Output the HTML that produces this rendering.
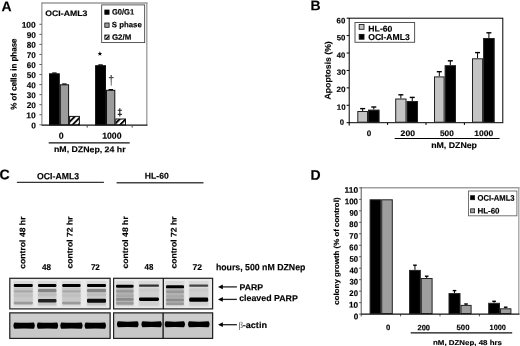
<!DOCTYPE html>
<html><head><meta charset="utf-8"><style>
html,body{margin:0;padding:0;background:#fff;overflow:hidden;}
svg{display:block;font-family:"Liberation Sans", sans-serif;text-rendering:geometricPrecision;filter:blur(0.25px);}
</style></head><body>
<svg width="520" height="346" viewBox="0 0 520 346">
<defs>
<pattern id="hatch" patternUnits="userSpaceOnUse" width="4.2" height="4.2" patternTransform="rotate(45)">
<rect width="4.2" height="4.2" fill="#fff"/><rect width="1.9" height="4.2" fill="#000"/></pattern>
<pattern id="hatch2" patternUnits="userSpaceOnUse" width="3" height="3" patternTransform="rotate(45)">
<rect width="3" height="3" fill="#fff"/><rect width="1.4" height="3" fill="#000"/></pattern>
<filter id="blur" x="-5%" y="-20%" width="110%" height="140%"><feGaussianBlur stdDeviation="0.55"/></filter>
<filter id="blur2" x="-5%" y="-20%" width="110%" height="140%"><feGaussianBlur stdDeviation="0.75"/></filter>
</defs>
<rect width="520" height="346" fill="#fff"/>
<line x1="41.90" y1="3.00" x2="147.40" y2="3.00" stroke="#9a9a9a" stroke-width="1.3"/>
<line x1="146.80" y1="2.40" x2="146.80" y2="125.60" stroke="#9a9a9a" stroke-width="1.3"/>
<line x1="41.90" y1="2.40" x2="41.90" y2="125.60" stroke="#7a7a7a" stroke-width="1.0"/>
<line x1="39.40" y1="124.80" x2="41.90" y2="124.80" stroke="#666" stroke-width="1"/>
<line x1="39.40" y1="114.75" x2="41.90" y2="114.75" stroke="#666" stroke-width="1"/>
<line x1="39.40" y1="104.70" x2="41.90" y2="104.70" stroke="#666" stroke-width="1"/>
<line x1="39.40" y1="94.65" x2="41.90" y2="94.65" stroke="#666" stroke-width="1"/>
<line x1="39.40" y1="84.60" x2="41.90" y2="84.60" stroke="#666" stroke-width="1"/>
<line x1="39.40" y1="74.55" x2="41.90" y2="74.55" stroke="#666" stroke-width="1"/>
<line x1="39.40" y1="64.50" x2="41.90" y2="64.50" stroke="#666" stroke-width="1"/>
<line x1="39.40" y1="54.45" x2="41.90" y2="54.45" stroke="#666" stroke-width="1"/>
<line x1="39.40" y1="44.40" x2="41.90" y2="44.40" stroke="#666" stroke-width="1"/>
<line x1="39.40" y1="34.35" x2="41.90" y2="34.35" stroke="#666" stroke-width="1"/>
<line x1="39.40" y1="24.30" x2="41.90" y2="24.30" stroke="#666" stroke-width="1"/>
<rect x="49.50" y="73.80" width="9.80" height="51.10" fill="#000" stroke="#111" stroke-width="1.0" />
<rect x="60.30" y="84.80" width="8.30" height="40.10" fill="#9c9c9c" stroke="#111" stroke-width="1.0" />
<rect x="69.60" y="116.40" width="9.80" height="8.50" fill="url(#hatch)" stroke="#111" stroke-width="1.0" />
<rect x="95.60" y="65.70" width="9.90" height="59.20" fill="#000" stroke="#111" stroke-width="1.0" />
<rect x="106.50" y="90.30" width="8.30" height="34.60" fill="#9c9c9c" stroke="#111" stroke-width="1.0" />
<rect x="115.80" y="119.00" width="9.70" height="5.90" fill="url(#hatch)" stroke="#111" stroke-width="1.0" />
<line x1="52.20" y1="73.00" x2="56.60" y2="73.00" stroke="#000" stroke-width="1.2"/>
<line x1="62.20" y1="84.00" x2="66.60" y2="84.00" stroke="#000" stroke-width="1.2"/>
<line x1="98.30" y1="64.90" x2="102.70" y2="64.90" stroke="#000" stroke-width="1.2"/>
<line x1="108.60" y1="89.60" x2="113.00" y2="89.60" stroke="#000" stroke-width="1.2"/>
<line x1="41.90" y1="125.20" x2="147.40" y2="125.20" stroke="#111" stroke-width="1.2"/>
<line x1="87.20" y1="125.20" x2="87.20" y2="127.60" stroke="#444" stroke-width="1"/>
<line x1="132.20" y1="125.20" x2="132.20" y2="127.60" stroke="#444" stroke-width="1"/>
<polygon points="99.90,51.30 100.52,52.95 102.28,53.03 100.90,54.12 101.37,55.82 99.90,54.85 98.43,55.82 98.90,54.12 97.52,53.03 99.28,52.95" fill="#000"/>
<path d="M110.5,75 L111.9,75 L111.55,85.8 L110.85,85.8 Z" fill="#555"/>
<path d="M108.8,77.6 L113.6,77.6" stroke="#444" stroke-width="1.1" fill="none"/>
<path d="M119.8,108.2 L119.8,116.6 M117.7,110.2 L121.9,110.2 M117.7,114.4 L121.9,114.4" stroke="#222" stroke-width="1.1" fill="none"/>
<rect x="101.70" y="4.90" width="43.00" height="37.70" fill="#fff" stroke="#333" stroke-width="0.8" />
<rect x="104.80" y="10.00" width="4.30" height="4.30" fill="#000" stroke="#111" stroke-width="0.8" />
<rect x="104.80" y="23.00" width="4.30" height="4.30" fill="#9c9c9c" stroke="#111" stroke-width="0.8" />
<rect x="104.80" y="35.00" width="4.30" height="4.30" fill="url(#hatch2)" stroke="#111" stroke-width="0.8" />
<line x1="48.70" y1="142.90" x2="129.70" y2="142.90" stroke="#111" stroke-width="1.2"/>
<rect x="349.20" y="18.20" width="153.60" height="104.50" fill="none" stroke="#000" stroke-width="1.0" />
<line x1="346.60" y1="122.70" x2="349.20" y2="122.70" stroke="#000" stroke-width="1"/>
<line x1="346.60" y1="105.28" x2="349.20" y2="105.28" stroke="#000" stroke-width="1"/>
<line x1="346.60" y1="87.86" x2="349.20" y2="87.86" stroke="#000" stroke-width="1"/>
<line x1="346.60" y1="70.44" x2="349.20" y2="70.44" stroke="#000" stroke-width="1"/>
<line x1="346.60" y1="53.02" x2="349.20" y2="53.02" stroke="#000" stroke-width="1"/>
<line x1="346.60" y1="35.60" x2="349.20" y2="35.60" stroke="#000" stroke-width="1"/>
<line x1="346.60" y1="18.18" x2="349.20" y2="18.18" stroke="#000" stroke-width="1"/>
<line x1="349.20" y1="122.70" x2="349.20" y2="125.60" stroke="#000" stroke-width="1"/>
<line x1="387.60" y1="122.70" x2="387.60" y2="125.00" stroke="#000" stroke-width="1"/>
<line x1="426.00" y1="122.70" x2="426.00" y2="125.00" stroke="#000" stroke-width="1"/>
<line x1="464.40" y1="122.70" x2="464.40" y2="125.00" stroke="#000" stroke-width="1"/>
<line x1="362.65" y1="108.60" x2="362.65" y2="111.00" stroke="#000" stroke-width="1.0"/>
<line x1="360.15" y1="108.60" x2="365.15" y2="108.60" stroke="#000" stroke-width="1.4"/>
<rect x="357.80" y="111.50" width="9.70" height="10.70" fill="#c4c4c4" stroke="#222" stroke-width="1.0" />
<line x1="373.80" y1="107.00" x2="373.80" y2="109.60" stroke="#000" stroke-width="1.0"/>
<line x1="371.30" y1="107.00" x2="376.30" y2="107.00" stroke="#000" stroke-width="1.4"/>
<rect x="368.50" y="110.10" width="10.60" height="12.10" fill="#000" stroke="#222" stroke-width="1.0" />
<line x1="400.85" y1="94.80" x2="400.85" y2="98.50" stroke="#000" stroke-width="1.0"/>
<line x1="398.35" y1="94.80" x2="403.35" y2="94.80" stroke="#000" stroke-width="1.4"/>
<rect x="395.70" y="99.00" width="10.30" height="23.20" fill="#c4c4c4" stroke="#222" stroke-width="1.0" />
<line x1="412.25" y1="97.40" x2="412.25" y2="101.00" stroke="#000" stroke-width="1.0"/>
<line x1="409.75" y1="97.40" x2="414.75" y2="97.40" stroke="#000" stroke-width="1.4"/>
<rect x="407.00" y="101.50" width="10.50" height="20.70" fill="#000" stroke="#222" stroke-width="1.0" />
<line x1="439.30" y1="71.70" x2="439.30" y2="76.40" stroke="#000" stroke-width="1.0"/>
<line x1="436.80" y1="71.70" x2="441.80" y2="71.70" stroke="#000" stroke-width="1.4"/>
<rect x="434.50" y="76.90" width="9.60" height="45.30" fill="#c4c4c4" stroke="#222" stroke-width="1.0" />
<line x1="450.30" y1="60.80" x2="450.30" y2="65.20" stroke="#000" stroke-width="1.0"/>
<line x1="447.80" y1="60.80" x2="452.80" y2="60.80" stroke="#000" stroke-width="1.4"/>
<rect x="445.10" y="65.70" width="10.40" height="56.50" fill="#000" stroke="#222" stroke-width="1.0" />
<line x1="477.55" y1="52.60" x2="477.55" y2="58.30" stroke="#000" stroke-width="1.0"/>
<line x1="475.05" y1="52.60" x2="480.05" y2="52.60" stroke="#000" stroke-width="1.4"/>
<rect x="472.50" y="58.80" width="10.10" height="63.40" fill="#c4c4c4" stroke="#222" stroke-width="1.0" />
<line x1="488.90" y1="32.80" x2="488.90" y2="38.00" stroke="#000" stroke-width="1.0"/>
<line x1="486.40" y1="32.80" x2="491.40" y2="32.80" stroke="#000" stroke-width="1.4"/>
<rect x="483.60" y="38.50" width="10.60" height="83.70" fill="#000" stroke="#222" stroke-width="1.0" />
<rect x="355.00" y="22.50" width="59.60" height="19.80" fill="#fff" stroke="#555" stroke-width="1.0" />
<rect x="359.20" y="24.50" width="4.80" height="4.80" fill="#c4c4c4" stroke="#222" stroke-width="0.9" />
<rect x="359.20" y="34.40" width="4.80" height="4.80" fill="#000" stroke="#111" stroke-width="0.9" />
<line x1="394.70" y1="138.50" x2="499.60" y2="138.50" stroke="#000" stroke-width="1.1"/>
<line x1="16.90" y1="182.40" x2="103.90" y2="182.40" stroke="#333" stroke-width="1.3"/>
<line x1="116.60" y1="182.70" x2="203.50" y2="182.70" stroke="#444" stroke-width="1.5"/>
<rect x="9.20" y="277.70" width="101.50" height="31.50" fill="#e9e9e9" stroke="none" stroke-width="0" />
<rect x="113.00" y="277.70" width="100.20" height="31.50" fill="#e9e9e9" stroke="none" stroke-width="0" />
<g filter="url(#blur2)">
<rect x="13.30" y="281.00" width="20.00" height="25.50" fill="#d9d9d9" stroke="none" stroke-width="0" />
<rect x="37.50" y="281.00" width="19.40" height="25.50" fill="#d9d9d9" stroke="none" stroke-width="0" />
<rect x="61.70" y="281.00" width="19.40" height="25.50" fill="#d9d9d9" stroke="none" stroke-width="0" />
<rect x="86.50" y="281.00" width="20.00" height="25.50" fill="#d9d9d9" stroke="none" stroke-width="0" />
<rect x="115.50" y="281.00" width="18.60" height="25.50" fill="#d9d9d9" stroke="none" stroke-width="0" />
<rect x="138.50" y="281.00" width="21.00" height="25.50" fill="#d9d9d9" stroke="none" stroke-width="0" />
<rect x="165.50" y="281.00" width="19.00" height="25.50" fill="#d9d9d9" stroke="none" stroke-width="0" />
<rect x="188.70" y="281.00" width="20.00" height="25.50" fill="#d9d9d9" stroke="none" stroke-width="0" />
<rect x="14.10" y="288.00" width="18.40" height="17.00" fill="#c6c6c6" stroke="none" stroke-width="0" rx="1"/>
<rect x="38.30" y="288.00" width="17.80" height="17.00" fill="#cbcbcb" stroke="none" stroke-width="0" rx="1"/>
<rect x="62.50" y="288.00" width="17.80" height="17.00" fill="#c6c6c6" stroke="none" stroke-width="0" rx="1"/>
<rect x="87.30" y="288.00" width="18.40" height="17.00" fill="#cbcbcb" stroke="none" stroke-width="0" rx="1"/>
<rect x="116.30" y="288.20" width="17.00" height="17.00" fill="#b2b2b2" stroke="none" stroke-width="0" rx="1"/>
<rect x="139.30" y="288.20" width="19.40" height="17.00" fill="#d0d0d0" stroke="none" stroke-width="0" rx="1"/>
<rect x="166.30" y="288.20" width="17.40" height="17.00" fill="#b2b2b2" stroke="none" stroke-width="0" rx="1"/>
<rect x="189.50" y="288.20" width="18.40" height="17.00" fill="#d0d0d0" stroke="none" stroke-width="0" rx="1"/>
<rect x="13.80" y="284.00" width="19.00" height="3.00" rx="1.20" fill="#000" opacity="1.0"/>
<rect x="13.80" y="287.50" width="19.00" height="3.00" rx="1.00" fill="#c4c4c4" opacity="1.0"/>
<rect x="13.80" y="290.20" width="19.00" height="2.40" rx="1.00" fill="#a8a8a8" opacity="1.0"/>
<rect x="13.80" y="294.10" width="19.00" height="3.00" rx="1.00" fill="#c0c0c0" opacity="1.0"/>
<rect x="13.80" y="298.00" width="19.00" height="3.00" rx="1.00" fill="#c8c8c8" opacity="1.0"/>
<rect x="13.80" y="301.80" width="19.00" height="2.40" rx="1.00" fill="#9a9a9a" opacity="1.0"/>
<rect x="38.00" y="284.00" width="18.40" height="3.00" rx="1.20" fill="#000" opacity="1.0"/>
<rect x="38.00" y="288.90" width="18.40" height="3.40" rx="1.00" fill="#858585" opacity="1.0"/>
<rect x="38.00" y="293.30" width="18.40" height="3.00" rx="1.00" fill="#bdbdbd" opacity="1.0"/>
<rect x="38.00" y="299.05" width="18.40" height="3.50" rx="1.20" fill="#222" opacity="1.0"/>
<rect x="38.00" y="303.20" width="18.40" height="2.00" rx="1.00" fill="#c4c4c4" opacity="1.0"/>
<rect x="62.20" y="284.00" width="18.40" height="3.00" rx="1.20" fill="#000" opacity="1.0"/>
<rect x="62.20" y="287.50" width="18.40" height="3.00" rx="1.00" fill="#c4c4c4" opacity="1.0"/>
<rect x="62.20" y="290.20" width="18.40" height="2.40" rx="1.00" fill="#a8a8a8" opacity="1.0"/>
<rect x="62.20" y="294.10" width="18.40" height="3.00" rx="1.00" fill="#c0c0c0" opacity="1.0"/>
<rect x="62.20" y="298.00" width="18.40" height="3.00" rx="1.00" fill="#c8c8c8" opacity="1.0"/>
<rect x="62.20" y="301.80" width="18.40" height="2.40" rx="1.00" fill="#9a9a9a" opacity="1.0"/>
<rect x="87.00" y="284.00" width="19.00" height="3.00" rx="1.20" fill="#000" opacity="1.0"/>
<rect x="87.00" y="288.90" width="19.00" height="3.40" rx="1.00" fill="#858585" opacity="1.0"/>
<rect x="87.00" y="293.30" width="19.00" height="3.00" rx="1.00" fill="#bdbdbd" opacity="1.0"/>
<rect x="87.00" y="298.85" width="19.00" height="3.90" rx="1.20" fill="#080808" opacity="1.0"/>
<rect x="87.00" y="303.20" width="19.00" height="2.00" rx="1.00" fill="#c4c4c4" opacity="1.0"/>
<rect x="116.00" y="284.65" width="17.60" height="3.10" rx="1.20" fill="#000" opacity="1.0"/>
<rect x="116.00" y="289.90" width="17.60" height="2.60" rx="1.00" fill="#989898" opacity="1.0"/>
<rect x="116.00" y="294.60" width="17.60" height="2.40" rx="1.00" fill="#a8a8a8" opacity="1.0"/>
<rect x="116.00" y="298.10" width="17.60" height="2.60" rx="1.00" fill="#8c8c8c" opacity="1.0"/>
<rect x="116.00" y="302.00" width="17.60" height="2.40" rx="1.00" fill="#999" opacity="1.0"/>
<rect x="139.00" y="284.50" width="20.00" height="2.20" rx="1.00" fill="#333" opacity="1.0"/>
<rect x="139.00" y="288.70" width="20.00" height="3.00" rx="1.00" fill="#cacaca" opacity="1.0"/>
<rect x="139.00" y="297.50" width="20.00" height="3.40" rx="1.40" fill="#000" opacity="1.0"/>
<rect x="166.00" y="285.25" width="18.00" height="3.10" rx="1.20" fill="#000" opacity="1.0"/>
<rect x="166.00" y="290.50" width="18.00" height="2.60" rx="1.00" fill="#989898" opacity="1.0"/>
<rect x="166.00" y="295.20" width="18.00" height="2.40" rx="1.00" fill="#a8a8a8" opacity="1.0"/>
<rect x="166.00" y="298.70" width="18.00" height="2.60" rx="1.00" fill="#8c8c8c" opacity="1.0"/>
<rect x="166.00" y="302.60" width="18.00" height="2.40" rx="1.00" fill="#999" opacity="1.0"/>
<rect x="189.20" y="284.50" width="19.00" height="2.20" rx="1.00" fill="#444" opacity="1.0"/>
<rect x="189.20" y="288.70" width="19.00" height="3.00" rx="1.00" fill="#cacaca" opacity="1.0"/>
<rect x="189.20" y="297.60" width="19.00" height="4.20" rx="1.40" fill="#000" opacity="1.0"/>
</g>
<rect x="9.80" y="278.30" width="100.30" height="30.60" fill="none" stroke="#222" stroke-width="1.2" />
<rect x="113.60" y="278.30" width="99.00" height="30.60" fill="none" stroke="#222" stroke-width="1.2" />
<line x1="163.30" y1="278.00" x2="163.30" y2="309.00" stroke="#111" stroke-width="1.2"/>
<rect x="9.20" y="312.30" width="101.50" height="26.50" fill="#c8c8c8" stroke="none" stroke-width="0" />
<rect x="9.20" y="312.30" width="101.50" height="8.00" fill="#cfcfcf" stroke="none" stroke-width="0" opacity="0.7"/>
<rect x="113.00" y="312.30" width="100.20" height="26.50" fill="#c8c8c8" stroke="none" stroke-width="0" />
<rect x="113.00" y="312.30" width="100.20" height="8.00" fill="#cfcfcf" stroke="none" stroke-width="0" opacity="0.7"/>
<g filter="url(#blur2)">
<path d="M14.40,322.40 Q24.10,323.20 33.80,322.40 Q35.80,325.60 33.80,328.80 Q24.10,328.00 14.40,328.80 Q12.40,325.60 14.40,322.40 Z" fill="#000"/>
<path d="M37.90,322.40 Q47.50,323.20 57.10,322.40 Q59.10,325.60 57.10,328.80 Q47.50,328.00 37.90,328.80 Q35.90,325.60 37.90,322.40 Z" fill="#000"/>
<path d="M61.30,322.40 Q71.45,323.20 81.60,322.40 Q83.60,325.60 81.60,328.80 Q71.45,328.00 61.30,328.80 Q59.30,325.60 61.30,322.40 Z" fill="#000"/>
<path d="M85.60,322.40 Q95.30,323.20 105.00,322.40 Q107.00,325.60 105.00,328.80 Q95.30,328.00 85.60,328.80 Q83.60,325.60 85.60,322.40 Z" fill="#000"/>
<path d="M117.90,321.30 Q127.75,322.00 137.60,321.30 Q139.60,324.30 137.60,327.30 Q127.75,326.60 117.90,327.30 Q115.90,324.30 117.90,321.30 Z" fill="#000"/>
<path d="M142.40,321.30 Q151.60,322.00 160.80,321.30 Q162.80,324.30 160.80,327.30 Q151.60,326.60 142.40,327.30 Q140.40,324.30 142.40,321.30 Z" fill="#000"/>
<path d="M165.70,321.30 Q174.85,322.00 184.00,321.30 Q186.00,324.30 184.00,327.30 Q174.85,326.60 165.70,327.30 Q163.70,324.30 165.70,321.30 Z" fill="#000"/>
<path d="M189.00,321.30 Q198.80,322.00 208.60,321.30 Q210.60,324.30 208.60,327.30 Q198.80,326.60 189.00,327.30 Q187.00,324.30 189.00,321.30 Z" fill="#000"/>
</g>
<rect x="9.80" y="312.90" width="100.30" height="25.50" fill="none" stroke="#222" stroke-width="1.2" />
<rect x="113.60" y="312.90" width="99.00" height="25.50" fill="none" stroke="#222" stroke-width="1.2" />
<line x1="163.10" y1="313.00" x2="163.10" y2="338.50" stroke="#111" stroke-width="1.3"/>
<line x1="221.50" y1="286.90" x2="236.90" y2="286.90" stroke="#222" stroke-width="1.3"/>
<path d="M218,286.90 L222.8,284.50 L222.8,289.30 Z" fill="#000"/>
<line x1="221.50" y1="299.40" x2="236.90" y2="299.40" stroke="#222" stroke-width="1.3"/>
<path d="M218,299.40 L222.8,297.00 L222.8,301.80 Z" fill="#000"/>
<line x1="221.50" y1="324.70" x2="236.90" y2="324.70" stroke="#222" stroke-width="1.3"/>
<path d="M218,324.70 L222.8,322.30 L222.8,327.10 Z" fill="#000"/>
<text x="238.6" y="327.6" font-size="9" font-family="Liberation Serif" fill="#555">β</text>
<line x1="361.20" y1="187.80" x2="519.50" y2="187.80" stroke="#a0a0a0" stroke-width="1.4"/>
<line x1="518.80" y1="187.20" x2="518.80" y2="314.10" stroke="#a0a0a0" stroke-width="1.3"/>
<line x1="361.20" y1="187.20" x2="361.20" y2="316.50" stroke="#555" stroke-width="1"/>
<line x1="359.20" y1="314.10" x2="361.20" y2="314.10" stroke="#555" stroke-width="1"/>
<line x1="359.20" y1="302.62" x2="361.20" y2="302.62" stroke="#555" stroke-width="1"/>
<line x1="359.20" y1="291.15" x2="361.20" y2="291.15" stroke="#555" stroke-width="1"/>
<line x1="359.20" y1="279.68" x2="361.20" y2="279.68" stroke="#555" stroke-width="1"/>
<line x1="359.20" y1="268.20" x2="361.20" y2="268.20" stroke="#555" stroke-width="1"/>
<line x1="359.20" y1="256.73" x2="361.20" y2="256.73" stroke="#555" stroke-width="1"/>
<line x1="359.20" y1="245.25" x2="361.20" y2="245.25" stroke="#555" stroke-width="1"/>
<line x1="359.20" y1="233.78" x2="361.20" y2="233.78" stroke="#555" stroke-width="1"/>
<line x1="359.20" y1="222.30" x2="361.20" y2="222.30" stroke="#555" stroke-width="1"/>
<line x1="359.20" y1="210.83" x2="361.20" y2="210.83" stroke="#555" stroke-width="1"/>
<line x1="359.20" y1="199.35" x2="361.20" y2="199.35" stroke="#555" stroke-width="1"/>
<line x1="359.20" y1="187.88" x2="361.20" y2="187.88" stroke="#555" stroke-width="1"/>
<line x1="400.60" y1="314.10" x2="400.60" y2="316.40" stroke="#555" stroke-width="1"/>
<line x1="440.00" y1="314.10" x2="440.00" y2="316.40" stroke="#555" stroke-width="1"/>
<line x1="479.40" y1="314.10" x2="479.40" y2="316.40" stroke="#555" stroke-width="1"/>
<rect x="370.10" y="199.80" width="10.60" height="113.80" fill="#000" stroke="#222" stroke-width="1.0" />
<rect x="381.70" y="199.80" width="10.60" height="113.80" fill="#9e9e9e" stroke="#222" stroke-width="1.0" />
<line x1="414.95" y1="265.20" x2="414.95" y2="269.90" stroke="#000" stroke-width="1.0"/>
<line x1="413.15" y1="265.20" x2="416.75" y2="265.20" stroke="#000" stroke-width="1.4"/>
<rect x="409.60" y="270.40" width="10.70" height="43.20" fill="#000" stroke="#222" stroke-width="1.0" />
<line x1="426.70" y1="276.20" x2="426.70" y2="278.00" stroke="#000" stroke-width="1.0"/>
<line x1="424.90" y1="276.20" x2="428.50" y2="276.20" stroke="#000" stroke-width="1.4"/>
<rect x="421.30" y="278.50" width="10.80" height="35.10" fill="#9e9e9e" stroke="#222" stroke-width="1.0" />
<line x1="454.50" y1="290.60" x2="454.50" y2="293.10" stroke="#000" stroke-width="1.0"/>
<line x1="452.70" y1="290.60" x2="456.30" y2="290.60" stroke="#000" stroke-width="1.4"/>
<rect x="449.00" y="293.60" width="11.00" height="20.00" fill="#000" stroke="#222" stroke-width="1.0" />
<line x1="466.05" y1="304.00" x2="466.05" y2="304.90" stroke="#000" stroke-width="1.0"/>
<line x1="464.25" y1="304.00" x2="467.85" y2="304.00" stroke="#000" stroke-width="1.4"/>
<rect x="461.00" y="305.40" width="10.10" height="8.20" fill="#9e9e9e" stroke="#222" stroke-width="1.0" />
<line x1="494.10" y1="301.30" x2="494.10" y2="302.80" stroke="#000" stroke-width="1.0"/>
<line x1="492.30" y1="301.30" x2="495.90" y2="301.30" stroke="#000" stroke-width="1.4"/>
<rect x="488.70" y="303.30" width="10.80" height="10.30" fill="#000" stroke="#222" stroke-width="1.0" />
<line x1="505.70" y1="307.20" x2="505.70" y2="308.30" stroke="#000" stroke-width="1.0"/>
<line x1="503.90" y1="307.20" x2="507.50" y2="307.20" stroke="#000" stroke-width="1.4"/>
<rect x="500.50" y="308.80" width="10.40" height="4.80" fill="#9e9e9e" stroke="#222" stroke-width="1.0" />
<line x1="361.20" y1="314.10" x2="519.50" y2="314.10" stroke="#111" stroke-width="1.2"/>
<rect x="468.50" y="191.00" width="48.40" height="24.80" fill="#fff" stroke="#666" stroke-width="0.9" />
<rect x="470.60" y="195.70" width="4.00" height="4.00" fill="#000" stroke="#111" stroke-width="0.8" />
<rect x="470.60" y="208.80" width="4.00" height="4.00" fill="#9e9e9e" stroke="#222" stroke-width="0.8" />
<line x1="410.70" y1="332.80" x2="512.20" y2="332.80" stroke="#111" stroke-width="1.2"/>
<text id="A" x="1.51" y="11.22" transform="rotate(0.05 1.51 11.22)" font-size="14" font-weight="bold" stroke="#000" stroke-width="0.15">A</text>
<text id="B" x="310.44" y="10.21" transform="rotate(0.05 310.44 10.21)" font-size="14" font-weight="bold" stroke="#000" stroke-width="0.15">B</text>
<text id="C" x="-0.60" y="179.13" transform="rotate(0.05 -0.60 179.13)" font-size="14" font-weight="bold" stroke="#000" stroke-width="0.15">C</text>
<text id="D" x="310.60" y="179.69" transform="rotate(0.05 310.60 179.69)" font-size="14" font-weight="bold" stroke="#000" stroke-width="0.15">D</text>
<text id="A_title" x="45.31" y="15.91" transform="rotate(0.05 45.31 15.91)" font-size="8.0" font-weight="bold" textLength="42.07" lengthAdjust="spacingAndGlyphs" stroke="#000" stroke-width="0.15">OCI-AML3</text>
<text id="A_t0" x="31.18" y="128.38" transform="rotate(0.05 31.18 128.38)" font-size="8.4" font-weight="bold" stroke="#000" stroke-width="0.15">0</text>
<text id="A_t10" x="26.34" y="118.33" transform="rotate(0.05 26.34 118.33)" font-size="8.4" font-weight="bold" textLength="9.48" lengthAdjust="spacingAndGlyphs" stroke="#000" stroke-width="0.15">10</text>
<text id="A_t20" x="26.64" y="108.14" transform="rotate(0.05 26.64 108.14)" font-size="8.4" font-weight="bold" textLength="9.21" lengthAdjust="spacingAndGlyphs" stroke="#000" stroke-width="0.15">20</text>
<text id="A_t30" x="26.82" y="98.13" transform="rotate(0.05 26.82 98.13)" font-size="8.4" font-weight="bold" textLength="9.00" lengthAdjust="spacingAndGlyphs" stroke="#000" stroke-width="0.15">30</text>
<text id="A_t40" x="26.78" y="88.13" transform="rotate(0.05 26.78 88.13)" font-size="8.4" font-weight="bold" textLength="9.04" lengthAdjust="spacingAndGlyphs" stroke="#000" stroke-width="0.15">40</text>
<text id="A_t50" x="26.65" y="77.98" transform="rotate(0.05 26.65 77.98)" font-size="8.4" font-weight="bold" textLength="9.24" lengthAdjust="spacingAndGlyphs" stroke="#000" stroke-width="0.15">50</text>
<text id="A_t60" x="26.84" y="67.95" transform="rotate(0.05 26.84 67.95)" font-size="8.4" font-weight="bold" textLength="8.96" lengthAdjust="spacingAndGlyphs" stroke="#000" stroke-width="0.15">60</text>
<text id="A_t70" x="26.75" y="57.92" transform="rotate(0.05 26.75 57.92)" font-size="8.4" font-weight="bold" textLength="9.05" lengthAdjust="spacingAndGlyphs" stroke="#000" stroke-width="0.15">70</text>
<text id="A_t80" x="26.78" y="47.81" transform="rotate(0.05 26.78 47.81)" font-size="8.4" font-weight="bold" textLength="9.08" lengthAdjust="spacingAndGlyphs" stroke="#000" stroke-width="0.15">80</text>
<text id="A_t90" x="26.66" y="37.95" transform="rotate(0.05 26.66 37.95)" font-size="8.4" font-weight="bold" textLength="9.21" lengthAdjust="spacingAndGlyphs" stroke="#000" stroke-width="0.15">90</text>
<text id="A_t100" x="21.67" y="27.77" transform="rotate(0.05 21.67 27.77)" font-size="8.4" font-weight="bold" textLength="14.12" lengthAdjust="spacingAndGlyphs" stroke="#000" stroke-width="0.15">100</text>
<text id="A_l1" x="111.92" y="14.48" transform="rotate(0.05 111.92 14.48)" font-size="7.8" font-weight="bold" textLength="22.23" lengthAdjust="spacingAndGlyphs" stroke="#000" stroke-width="0.15">G0/G1</text>
<text id="A_l2" x="111.87" y="27.23" transform="rotate(0.05 111.87 27.23)" font-size="7.8" font-weight="bold" textLength="29.88" lengthAdjust="spacingAndGlyphs" stroke="#000" stroke-width="0.15">S phase</text>
<text id="A_l3" x="111.90" y="39.79" transform="rotate(0.05 111.90 39.79)" font-size="7.8" font-weight="bold" textLength="19.37" lengthAdjust="spacingAndGlyphs" stroke="#000" stroke-width="0.15">G2/M</text>
<text id="A_ylab" transform="translate(16.40,109.87) rotate(-89.95)" font-size="8.3" font-weight="bold" textLength="71.44" lengthAdjust="spacingAndGlyphs" stroke="#000" stroke-width="0.15">% of cells in phase</text>
<text id="A_x0" x="58.74" y="138.71" transform="rotate(0.05 58.74 138.71)" font-size="8.8" font-weight="bold" stroke="#000" stroke-width="0.15">0</text>
<text id="A_x1" x="102.20" y="138.83" transform="rotate(0.05 102.20 138.83)" font-size="8.8" font-weight="bold" textLength="19.38" lengthAdjust="spacingAndGlyphs" stroke="#000" stroke-width="0.15">1000</text>
<text id="A_xt" x="53.98" y="152.11" transform="rotate(0.05 53.98 152.11)" font-size="8.3" font-weight="bold" textLength="71.61" lengthAdjust="spacingAndGlyphs" stroke="#000" stroke-width="0.15">nM, DZNep, 24 hr</text>
<text id="B_t60" x="336.64" y="23.16" transform="rotate(0.05 336.64 23.16)" font-size="7.7" font-weight="bold" textLength="8.71" lengthAdjust="spacingAndGlyphs" stroke="#000" stroke-width="0.15">60</text>
<text id="B_t50" x="336.67" y="40.19" transform="rotate(0.05 336.67 40.19)" font-size="7.7" font-weight="bold" textLength="8.71" lengthAdjust="spacingAndGlyphs" stroke="#000" stroke-width="0.15">50</text>
<text id="B_t40" x="336.78" y="57.66" transform="rotate(0.05 336.78 57.66)" font-size="7.7" font-weight="bold" textLength="8.44" lengthAdjust="spacingAndGlyphs" stroke="#000" stroke-width="0.15">40</text>
<text id="B_t30" x="336.66" y="74.85" transform="rotate(0.05 336.66 74.85)" font-size="7.7" font-weight="bold" textLength="8.96" lengthAdjust="spacingAndGlyphs" stroke="#000" stroke-width="0.15">30</text>
<text id="B_t20" x="336.58" y="92.02" transform="rotate(0.05 336.58 92.02)" font-size="7.7" font-weight="bold" textLength="9.09" lengthAdjust="spacingAndGlyphs" stroke="#000" stroke-width="0.15">20</text>
<text id="B_t10" x="336.89" y="109.80" transform="rotate(0.05 336.89 109.80)" font-size="7.7" font-weight="bold" textLength="8.86" lengthAdjust="spacingAndGlyphs" stroke="#000" stroke-width="0.15">10</text>
<text id="B_t0" x="339.82" y="124.69" transform="rotate(0.05 339.82 124.69)" font-size="7.7" font-weight="bold" stroke="#000" stroke-width="0.15">0</text>
<text id="B_l1" x="368.36" y="31.61" transform="rotate(0.05 368.36 31.61)" font-size="8.35" font-weight="bold" textLength="24.04" lengthAdjust="spacingAndGlyphs" stroke="#000" stroke-width="0.15">HL-60</text>
<text id="B_l2" x="368.23" y="39.99" transform="rotate(0.05 368.23 39.99)" font-size="8.6" font-weight="bold" textLength="41.48" lengthAdjust="spacingAndGlyphs" stroke="#000" stroke-width="0.15">OCI-AML3</text>
<text id="B_ylab" transform="translate(330.60,99.44) rotate(-89.95)" font-size="8.3" font-weight="bold" textLength="58.21" lengthAdjust="spacingAndGlyphs" stroke="#000" stroke-width="0.15">Apoptosis (%)</text>
<text id="B_x0" x="366.78" y="135.93" transform="rotate(0.05 366.78 135.93)" font-size="8.0" font-weight="bold" stroke="#000" stroke-width="0.15">0</text>
<text id="B_x1" x="400.63" y="136.03" transform="rotate(0.05 400.63 136.03)" font-size="8.0" font-weight="bold" textLength="14.36" lengthAdjust="spacingAndGlyphs" stroke="#000" stroke-width="0.15">200</text>
<text id="B_x2" x="440.02" y="136.02" transform="rotate(0.05 440.02 136.02)" font-size="8.0" font-weight="bold" textLength="13.77" lengthAdjust="spacingAndGlyphs" stroke="#000" stroke-width="0.15">500</text>
<text id="B_x3" x="474.32" y="136.05" transform="rotate(0.05 474.32 136.05)" font-size="8.0" font-weight="bold" textLength="18.91" lengthAdjust="spacingAndGlyphs" stroke="#000" stroke-width="0.15">1000</text>
<text id="B_xt" x="431.17" y="148.06" transform="rotate(0.05 431.17 148.06)" font-size="8.35" font-weight="bold" textLength="45.82" lengthAdjust="spacingAndGlyphs" stroke="#000" stroke-width="0.15">nM, DZNep</text>
<text id="C_h1" x="37.04" y="179.33" transform="rotate(0.05 37.04 179.33)" font-size="9.0" font-weight="bold" textLength="42.04" lengthAdjust="spacingAndGlyphs" stroke="#000" stroke-width="0.15">OCI-AML3</text>
<text id="C_h2" x="144.89" y="178.71" transform="rotate(0.05 144.89 178.71)" font-size="8.45" font-weight="bold" textLength="23.87" lengthAdjust="spacingAndGlyphs" stroke="#000" stroke-width="0.15">HL-60</text>
<text id="C_r0" transform="translate(25.20,268.72) rotate(-89.95)" font-size="8.1" font-weight="bold" textLength="52.21" lengthAdjust="spacingAndGlyphs" stroke="#000" stroke-width="0.15">control 48 hr</text>
<text id="C_r1" transform="translate(72.50,268.58) rotate(-89.95)" font-size="8.1" font-weight="bold" textLength="52.07" lengthAdjust="spacingAndGlyphs" stroke="#000" stroke-width="0.15">control 72 hr</text>
<text id="C_r2" transform="translate(128.00,268.61) rotate(-89.95)" font-size="8.1" font-weight="bold" textLength="52.38" lengthAdjust="spacingAndGlyphs" stroke="#000" stroke-width="0.15">control 48 hr</text>
<text id="C_r3" transform="translate(176.50,268.58) rotate(-89.95)" font-size="8.1" font-weight="bold" textLength="52.07" lengthAdjust="spacingAndGlyphs" stroke="#000" stroke-width="0.15">control 72 hr</text>
<text id="C_n0" x="41.94" y="269.94" transform="rotate(0.05 41.94 269.94)" font-size="8.3" font-weight="bold" textLength="9.00" lengthAdjust="spacingAndGlyphs" stroke="#000" stroke-width="0.15">48</text>
<text id="C_n1" x="90.90" y="269.94" transform="rotate(0.05 90.90 269.94)" font-size="8.3" font-weight="bold" textLength="8.96" lengthAdjust="spacingAndGlyphs" stroke="#000" stroke-width="0.15">72</text>
<text id="C_n2" x="144.53" y="269.84" transform="rotate(0.05 144.53 269.84)" font-size="8.3" font-weight="bold" textLength="8.75" lengthAdjust="spacingAndGlyphs" stroke="#000" stroke-width="0.15">48</text>
<text id="C_n3" x="192.50" y="269.94" transform="rotate(0.05 192.50 269.94)" font-size="8.3" font-weight="bold" textLength="9.55" lengthAdjust="spacingAndGlyphs" stroke="#000" stroke-width="0.15">72</text>
<text id="C_hours" x="215.88" y="270.13" transform="rotate(0.05 215.88 270.13)" font-size="9.1" font-weight="bold" textLength="89.50" lengthAdjust="spacingAndGlyphs" stroke="#000" stroke-width="0.15">hours, 500 nM DZNep</text>
<text id="C_parp" x="239.53" y="290.23" transform="rotate(0.05 239.53 290.23)" font-size="8.7" font-weight="bold" textLength="23.52" lengthAdjust="spacingAndGlyphs" stroke="#000" stroke-width="0.15">PARP</text>
<text id="C_cparp" x="239.19" y="301.10" transform="rotate(0.05 239.19 301.10)" font-size="8.8" font-weight="bold" textLength="58.63" lengthAdjust="spacingAndGlyphs" stroke="#000" stroke-width="0.15">cleaved PARP</text>
<text id="C_actin" x="242.66" y="328.04" transform="rotate(0.05 242.66 328.04)" font-size="8.7" font-weight="bold" textLength="24.37" lengthAdjust="spacingAndGlyphs" stroke="#000" stroke-width="0.15">-actin</text>
<text id="D_t0" x="353.78" y="319.26" transform="rotate(0.05 353.78 319.26)" font-size="8.1" font-weight="bold" stroke="#000" stroke-width="0.15">0</text>
<text id="D_t10" x="348.96" y="307.64" transform="rotate(0.05 348.96 307.64)" font-size="8.1" font-weight="bold" textLength="9.15" lengthAdjust="spacingAndGlyphs" stroke="#000" stroke-width="0.15">10</text>
<text id="D_t20" x="349.32" y="296.05" transform="rotate(0.05 349.32 296.05)" font-size="8.1" font-weight="bold" textLength="8.64" lengthAdjust="spacingAndGlyphs" stroke="#000" stroke-width="0.15">20</text>
<text id="D_t30" x="349.39" y="284.60" transform="rotate(0.05 349.39 284.60)" font-size="8.1" font-weight="bold" textLength="8.63" lengthAdjust="spacingAndGlyphs" stroke="#000" stroke-width="0.15">30</text>
<text id="D_t40" x="349.53" y="273.15" transform="rotate(0.05 349.53 273.15)" font-size="8.1" font-weight="bold" textLength="8.57" lengthAdjust="spacingAndGlyphs" stroke="#000" stroke-width="0.15">40</text>
<text id="D_t50" x="349.45" y="261.71" transform="rotate(0.05 349.45 261.71)" font-size="8.1" font-weight="bold" textLength="8.58" lengthAdjust="spacingAndGlyphs" stroke="#000" stroke-width="0.15">50</text>
<text id="D_t60" x="349.37" y="250.20" transform="rotate(0.05 349.37 250.20)" font-size="8.1" font-weight="bold" textLength="8.59" lengthAdjust="spacingAndGlyphs" stroke="#000" stroke-width="0.15">60</text>
<text id="D_t70" x="349.34" y="238.77" transform="rotate(0.05 349.34 238.77)" font-size="8.1" font-weight="bold" textLength="8.75" lengthAdjust="spacingAndGlyphs" stroke="#000" stroke-width="0.15">70</text>
<text id="D_t80" x="349.33" y="227.10" transform="rotate(0.05 349.33 227.10)" font-size="8.1" font-weight="bold" textLength="8.61" lengthAdjust="spacingAndGlyphs" stroke="#000" stroke-width="0.15">80</text>
<text id="D_t90" x="349.42" y="215.84" transform="rotate(0.05 349.42 215.84)" font-size="8.1" font-weight="bold" textLength="8.51" lengthAdjust="spacingAndGlyphs" stroke="#000" stroke-width="0.15">90</text>
<text id="D_t100" x="344.74" y="204.31" transform="rotate(0.05 344.74 204.31)" font-size="8.1" font-weight="bold" textLength="13.34" lengthAdjust="spacingAndGlyphs" stroke="#000" stroke-width="0.15">100</text>
<text id="D_t110" x="344.61" y="192.79" transform="rotate(0.05 344.61 192.79)" font-size="8.1" font-weight="bold" textLength="13.52" lengthAdjust="spacingAndGlyphs" stroke="#000" stroke-width="0.15">110</text>
<text id="D_l1" x="477.58" y="200.81" transform="rotate(0.05 477.58 200.81)" font-size="8.1" font-weight="bold" textLength="37.04" lengthAdjust="spacingAndGlyphs" stroke="#000" stroke-width="0.15">OCI-AML3</text>
<text id="D_l2" x="477.38" y="213.49" transform="rotate(0.05 477.38 213.49)" font-size="8.0" font-weight="bold" textLength="22.15" lengthAdjust="spacingAndGlyphs" stroke="#000" stroke-width="0.15">HL-60</text>
<text id="D_ylab" transform="translate(339.00,304.69) rotate(-89.95)" font-size="7.4" font-weight="bold" textLength="107.24" lengthAdjust="spacingAndGlyphs" stroke="#000" stroke-width="0.15">colony growth (% of control)</text>
<text id="D_x0" x="386.13" y="329.97" transform="rotate(0.05 386.13 329.97)" font-size="7.7" font-weight="bold" stroke="#000" stroke-width="0.15">0</text>
<text id="D_x1" x="417.46" y="330.15" transform="rotate(0.05 417.46 330.15)" font-size="7.7" font-weight="bold" textLength="12.59" lengthAdjust="spacingAndGlyphs" stroke="#000" stroke-width="0.15">200</text>
<text id="D_x2" x="456.48" y="329.93" transform="rotate(0.05 456.48 329.93)" font-size="7.7" font-weight="bold" textLength="13.01" lengthAdjust="spacingAndGlyphs" stroke="#000" stroke-width="0.15">500</text>
<text id="D_x3" x="489.59" y="330.00" transform="rotate(0.05 489.59 330.00)" font-size="7.7" font-weight="bold" textLength="16.40" lengthAdjust="spacingAndGlyphs" stroke="#000" stroke-width="0.15">1000</text>
<text id="D_xt" x="433.01" y="344.89" transform="rotate(0.05 433.01 344.89)" font-size="7.1" font-weight="bold" textLength="69.03" lengthAdjust="spacingAndGlyphs" stroke="#000" stroke-width="0.15">nM, DZNep, 48 hrs</text>
</svg></body></html>
